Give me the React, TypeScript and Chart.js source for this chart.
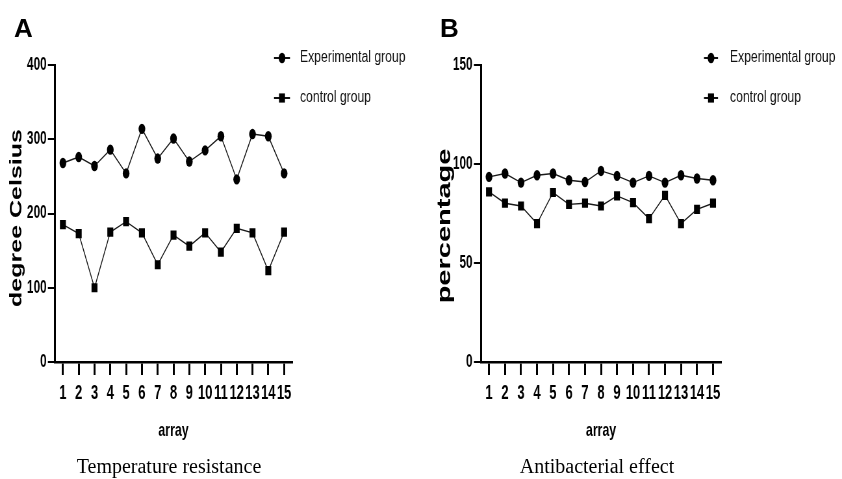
import React, { useEffect, useRef } from "react";
import { Chart, registerables } from "chart.js";

Chart.register(...registerables);

// ---------------- data ----------------
const categories = ["1", "2", "3", "4", "5", "6", "7", "8", "9", "10", "11", "12", "13", "14", "15"];

const tempExperimental = [268, 276, 264, 286, 254, 314, 274, 301, 270, 285, 304, 246, 307, 304, 254];
const tempControl = [185, 173, 100, 175, 189, 174, 131, 171, 156, 174, 148, 180, 174, 123, 175];
const tempTicks = [0, 100, 200, 300, 400];

const abExperimental = [93.5, 95.2, 90.6, 94.3, 95.2, 91.8, 90.9, 96.5, 94.0, 90.6, 94.0, 90.6, 94.3, 92.7, 91.8];
const abControl = [85.9, 80.2, 78.8, 69.9, 85.6, 79.6, 80.2, 78.8, 83.9, 80.5, 72.4, 84.2, 69.9, 77.1, 80.2];
const abTicks = [0, 50, 100, 150];

const seriesNames = ["Experimental group", "control group"];

// ---------------- layout ----------------
const CSS_W = 421;
const CSS_H = 479;
const INT_W = 648;
const S = CSS_W / INT_W; // horizontal squash of the canvas
const SANS = "'Liberation Sans', Arial, Helvetica, sans-serif";
const SERIF = "'Liberation Serif', 'Times New Roman', Times, serif";

const sideText = {
  id: "sideText",
  afterDraw(chart: any, _args: any, opts: any) {
    const ctx = chart.ctx as CanvasRenderingContext2D;
    // legend
    chart.data.datasets.forEach((ds: any, i: number) => {
      const y = opts.legendYs[i];
      ctx.save();
      ctx.strokeStyle = "#111";
      ctx.lineWidth = 2;
      ctx.beginPath();
      ctx.moveTo(opts.lx0 / S, y);
      ctx.lineTo(opts.lx1 / S, y);
      ctx.stroke();
      ctx.fillStyle = "#000";
      const cx = opts.mx / S;
      const r = ds.pointRadius;
      if (ds.pointStyle === "rect") {
        const h = r * Math.SQRT1_2;
        ctx.fillRect(cx - h, y - h, 2 * h, 2 * h);
      } else {
        ctx.beginPath();
        ctx.arc(cx, y, r, 0, Math.PI * 2);
        ctx.fill();
      }
      ctx.translate(opts.tx / S, y);
      ctx.scale(0.76 / S, 1);
      ctx.font = `16px ${SANS}`;
      ctx.textBaseline = "middle";
      ctx.textAlign = "left";
      ctx.fillStyle = "#111";
      ctx.fillText(ds.label, 0, 0);
      ctx.restore();
    });
    // y axis title
    ctx.save();
    ctx.translate(opts.ytx / S, opts.yty);
    ctx.rotate(-Math.PI / 2);
    ctx.font = `bold ${opts.ytSize}px ${SANS}`;
    ctx.textAlign = "center";
    ctx.textBaseline = "middle";
    ctx.fillStyle = "#000";
    ctx.fillText(opts.yTitle, 0, 0);
    ctx.restore();
  },
};

type PanelProps = {
  left: number;
  exp: number[];
  ctrl: number[];
  yMax: number;
  yTicks: number[];
  yTitle: string;
  ytSize: number;
  ytx: number;
  yty: number;
  areaLeft: number;
  areaRight: number;
  lx0: number;
  lx1: number;
  mx: number;
  tx: number;
};

function Panel(p: PanelProps) {
  const ref = useRef<HTMLCanvasElement | null>(null);
  useEffect(() => {
    if (!ref.current) return;
    const tickFont = { family: SANS, size: 20, weight: "bold" as const };
    const chart = new Chart(ref.current, {
      type: "line",
      data: {
        labels: categories,
        datasets: [
          {
            label: seriesNames[0],
            data: p.exp,
            borderColor: "#1a1a1a",
            borderWidth: 1.4,
            pointStyle: "circle",
            pointRadius: 5.2,
            pointBackgroundColor: "#000",
            pointBorderColor: "#000",
            pointBorderWidth: 0,
            fill: false,
            tension: 0,
          },
          {
            label: seriesNames[1],
            data: p.ctrl,
            borderColor: "#1a1a1a",
            borderWidth: 1.4,
            pointStyle: "rect",
            pointRadius: 6.5,
            pointBackgroundColor: "#000",
            pointBorderColor: "#000",
            pointBorderWidth: 0,
            fill: false,
            tension: 0,
          },
        ],
      },
      options: {
        responsive: false,
        animation: false,
        devicePixelRatio: 1,
        layout: { padding: { left: 0, top: 65, right: INT_W - p.areaRight / S, bottom: 0 } },
        plugins: {
          legend: { display: false },
          tooltip: { enabled: false },
          sideText: {
            legendYs: [58, 98],
            lx0: p.lx0,
            lx1: p.lx1,
            mx: p.mx,
            tx: p.tx,
            yTitle: p.yTitle,
            ytSize: p.ytSize,
            ytx: p.ytx,
            yty: p.yty,
          },
        } as any,
        scales: {
          x: {
            type: "category",
            offset: true,
            grid: {
              display: true,
              drawOnChartArea: false,
              drawTicks: true,
              tickLength: 13,
              lineWidth: 3,
              color: "#000",
              offset: false,
            },
            border: { display: true, color: "#000", width: 2.5 },
            ticks: { color: "#000", font: tickFont, padding: 6, autoSkip: false, maxRotation: 0 },
            title: {
              display: true,
              text: "array",
              color: "#000",
              font: { family: SANS, size: 19, weight: "bold" },
              padding: { top: 0, bottom: 37 },
            },
            afterFit: (sc: any) => {
              sc.height = CSS_H - 362;
            },
          },
          y: {
            type: "linear",
            min: 0,
            max: p.yMax,
            afterBuildTicks: (sc: any) => {
              sc.ticks = p.yTicks.map((v) => ({ value: v }));
            },
            grid: {
              display: true,
              drawOnChartArea: false,
              drawTicks: true,
              tickLength: 11,
              lineWidth: 2,
              color: "#000",
            },
            border: { display: true, color: "#000", width: 3 },
            ticks: { color: "#000", font: { family: SANS, size: 18, weight: "bold" }, padding: 2 },
            afterFit: (sc: any) => {
              sc.width = p.areaLeft / S;
            },
          },
        },
      },
      plugins: [sideText as any],
    });
    return () => chart.destroy();
  }, []);
  return (
    <canvas
      ref={ref}
      width={INT_W}
      height={CSS_H}
      style={{ position: "absolute", left: p.left, top: 0, width: CSS_W, height: CSS_H, display: "block" }}
    />
  );
}

const labelStyle: React.CSSProperties = {
  position: "absolute",
  fontFamily: SANS,
  fontWeight: "bold",
  fontSize: 26,
  lineHeight: 1,
  color: "#000",
};

const captionStyle: React.CSSProperties = {
  position: "absolute",
  fontFamily: SERIF,
  fontSize: 20,
  lineHeight: 1,
  color: "#000",
  textAlign: "center",
  whiteSpace: "nowrap",
};

export default function App() {
  return (
    <div style={{ position: "absolute", left: 0, top: 0, width: 842, height: 479, background: "#fff", overflow: "hidden" }}>
      <Panel
        left={0}
        exp={tempExperimental}
        ctrl={tempControl}
        yMax={400}
        yTicks={tempTicks}
        yTitle="degree Celsius"
        ytSize={25}
        ytx={17}
        yty={218}
        areaLeft={55}
        areaRight={292}
        lx0={274}
        lx1={290}
        mx={282}
        tx={300}
      />
      <Panel
        left={421}
        exp={abExperimental}
        ctrl={abControl}
        yMax={150}
        yTicks={abTicks}
        yTitle="percentage"
        ytSize={29}
        ytx={24}
        yty={226}
        areaLeft={60}
        areaRight={300}
        lx0={283}
        lx1={297}
        mx={290}
        tx={309}
      />
      <div style={{ ...labelStyle, left: 14, top: 15 }}>A</div>
      <div style={{ ...labelStyle, left: 440, top: 15 }}>B</div>
      <div style={{ ...captionStyle, left: 0, width: 338, top: 456 }}>Temperature resistance</div>
      <div style={{ ...captionStyle, left: 497, width: 200, top: 456 }}>Antibacterial effect</div>
    </div>
  );
}
